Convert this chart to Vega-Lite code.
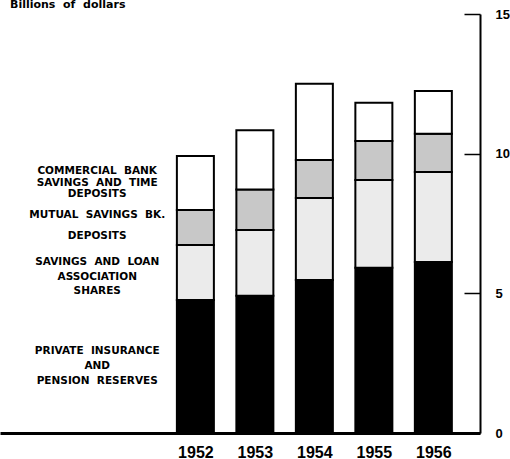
{
  "$schema": "https://vega.github.io/schema/vega-lite/v6.json",
  "width": 480,
  "height": 419,
  "autosize": "none",
  "padding": {"left": 0, "top": 14, "right": 30, "bottom": 26},
  "background": "white",
  "config": {"view": {"stroke": null}, "font": "DejaVu Sans"},
  "title": {
    "text": "Billions\u00a0\u00a0of\u00a0\u00a0dollars",
    "anchor": "start",
    "frame": "group",
    "orient": "top",
    "offset": 0,
    "dy": 13,
    "baseline": "bottom",
    "fontSize": 11,
    "fontWeight": "bold",
    "font": "DejaVu Sans",
    "dx": 10,
    "color": "black"
  },
  "datasets": {
    "savings": [
      {"year": 1952, "category": "Private insurance and pension reserves", "amount": 4.76},
      {"year": 1953, "category": "Private insurance and pension reserves", "amount": 4.91},
      {"year": 1954, "category": "Private insurance and pension reserves", "amount": 5.48},
      {"year": 1955, "category": "Private insurance and pension reserves", "amount": 5.92},
      {"year": 1956, "category": "Private insurance and pension reserves", "amount": 6.12},
      {"year": 1952, "category": "Savings and loan association shares", "amount": 1.97},
      {"year": 1953, "category": "Savings and loan association shares", "amount": 2.36},
      {"year": 1954, "category": "Savings and loan association shares", "amount": 2.93},
      {"year": 1955, "category": "Savings and loan association shares", "amount": 3.14},
      {"year": 1956, "category": "Savings and loan association shares", "amount": 3.22},
      {"year": 1952, "category": "Mutual savings bank deposits", "amount": 1.25},
      {"year": 1953, "category": "Mutual savings bank deposits", "amount": 1.45},
      {"year": 1954, "category": "Mutual savings bank deposits", "amount": 1.36},
      {"year": 1955, "category": "Mutual savings bank deposits", "amount": 1.39},
      {"year": 1956, "category": "Mutual savings bank deposits", "amount": 1.37},
      {"year": 1952, "category": "Commercial bank savings and time deposits", "amount": 1.94},
      {"year": 1953, "category": "Commercial bank savings and time deposits", "amount": 2.12},
      {"year": 1954, "category": "Commercial bank savings and time deposits", "amount": 2.73},
      {"year": 1955, "category": "Commercial bank savings and time deposits", "amount": 1.37},
      {"year": 1956, "category": "Commercial bank savings and time deposits", "amount": 1.53}
    ],
    "labels": [
      {"line": "COMMERCIAL\u00a0\u00a0BANK", "y": 9.38},
      {"line": "SAVINGS\u00a0\u00a0AND\u00a0\u00a0TIME", "y": 8.96},
      {"line": "DEPOSITS", "y": 8.56},
      {"line": "MUTUAL\u00a0\u00a0SAVINGS\u00a0\u00a0BK.", "y": 7.81},
      {"line": "DEPOSITS", "y": 7.05},
      {"line": "SAVINGS\u00a0\u00a0AND\u00a0\u00a0LOAN", "y": 6.12},
      {"line": "ASSOCIATION", "y": 5.59},
      {"line": "SHARES", "y": 5.08},
      {"line": "PRIVATE\u00a0\u00a0INSURANCE", "y": 2.94},
      {"line": "AND", "y": 2.40},
      {"line": "PENSION\u00a0\u00a0RESERVES", "y": 1.86}
    ]
  },
  "layer": [
    {
      "data": {"name": "savings"},
      "transform": [
        {"calculate": "indexof(['Private insurance and pension reserves','Savings and loan association shares','Mutual savings bank deposits','Commercial bank savings and time deposits'], datum.category)", "as": "stack_rank"}
      ],
      "mark": {"type": "bar", "size": 37, "stroke": "black", "strokeWidth": 2},
      "encoding": {
        "x": {
          "field": "year",
          "type": "quantitative",
          "scale": {"domain": [1948.8, 1956.7], "nice": false, "zero": false},
          "axis": {
            "orient": "bottom",
            "values": [1952, 1953, 1954, 1955, 1956],
            "format": "d",
            "title": null,
            "grid": false,
            "ticks": false,
            "domainWidth": 3,
            "domainColor": "black",
            "labelFont": "Liberation Sans",
            "labelFontWeight": "bold",
            "labelFontSize": 16,
            "labelColor": "black",
            "labelPadding": 11
          }
        },
        "y": {
          "field": "amount",
          "type": "quantitative",
          "stack": "zero",
          "scale": {"domain": [0, 15], "nice": false},
          "axis": {
            "orient": "right",
            "values": [0, 5, 10, 15],
            "title": null,
            "grid": false,
            "domainWidth": 2,
            "domainColor": "black",
            "tickSize": -16,
            "tickWidth": 1.5,
            "tickColor": "black",
            "labelFont": "Liberation Sans",
            "labelFontWeight": "bold",
            "labelFontSize": 13,
            "labelColor": "black",
            "labelPadding": 31,
            "labelBaseline": "middle"
          }
        },
        "color": {
          "field": "category",
          "type": "nominal",
          "scale": {
            "domain": ["Private insurance and pension reserves", "Savings and loan association shares", "Mutual savings bank deposits", "Commercial bank savings and time deposits"],
            "range": ["#000000", "#ebebeb", "#c8c8c8", "#ffffff"]
          },
          "legend": null
        },
        "order": {"field": "stack_rank", "type": "quantitative", "sort": "ascending"}
      }
    },
    {
      "data": {"name": "labels"},
      "mark": {"type": "text", "font": "DejaVu Sans", "fontWeight": "bold", "fontSize": 10.5, "align": "center", "baseline": "middle", "color": "black"},
      "encoding": {
        "x": {"datum": 1950.35, "type": "quantitative"},
        "y": {"field": "y", "type": "quantitative"},
        "text": {"field": "line"}
      }
    }
  ]
}
